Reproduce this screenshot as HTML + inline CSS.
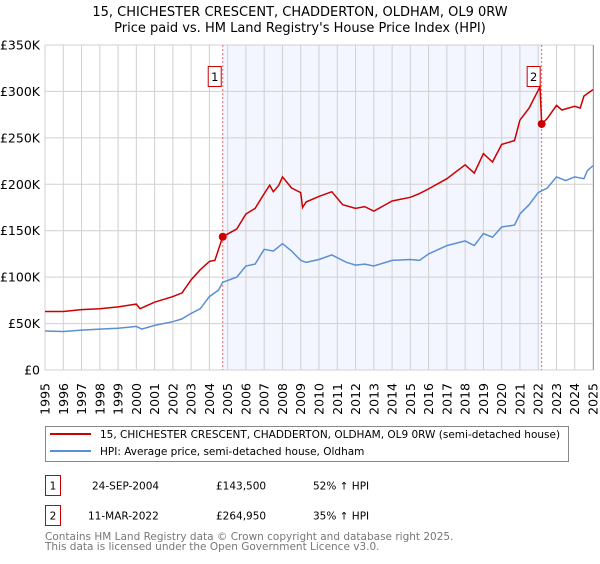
<!DOCTYPE html>
<html><head><meta charset="utf-8"><style>
body{margin:0;background:#fff;font-family:"DejaVu Sans","Liberation Sans",sans-serif;}
svg text{font-family:"DejaVu Sans","Liberation Sans",sans-serif;}
</style></head><body>
<svg id="chart" width="600" height="560" xmlns="http://www.w3.org/2000/svg">
<text x="300" y="16" font-size="13" text-anchor="middle">15, CHICHESTER CRESCENT, CHADDERTON, OLDHAM, OL9 0RW</text>
<text x="300" y="32" font-size="13" text-anchor="middle">Price paid vs. HM Land Registry's House Price Index (HPI)</text>
<g id="plot"></g>
<rect x="45.5" y="426.5" width="523" height="35" fill="#fff" stroke="#888"/>
<line x1="50" y1="434" x2="91" y2="434" stroke="#cc0000" stroke-width="2"/>
<text x="100" y="438" font-size="10.5">15, CHICHESTER CRESCENT, CHADDERTON, OLDHAM, OL9 0RW (semi-detached house)</text>
<line x1="50" y1="451" x2="91" y2="451" stroke="#5b8fd4" stroke-width="2"/>
<text x="100" y="455" font-size="10.5">HPI: Average price, semi-detached house, Oldham</text>
<rect x="45.5" y="475.5" width="15" height="20" fill="#fff" stroke="#cc0000"/>
<text x="53" y="489.5" font-size="10.5" text-anchor="middle">1</text>
<text x="92" y="489.5" font-size="10.5">24-SEP-2004</text>
<text x="216" y="489.5" font-size="10.5">£143,500</text>
<text x="313" y="489.5" font-size="10.5">52% ↑ HPI</text>
<rect x="45.5" y="505.5" width="15" height="20" fill="#fff" stroke="#cc0000"/>
<text x="53" y="519.5" font-size="10.5" text-anchor="middle">2</text>
<text x="88" y="519.5" font-size="10.5">11-MAR-2022</text>
<text x="216" y="519.5" font-size="10.5">£264,950</text>
<text x="313" y="519.5" font-size="10.5">35% ↑ HPI</text>
<text x="45" y="540" font-size="10.5" fill="#777">Contains HM Land Registry data © Crown copyright and database right 2025.</text>
<text x="45" y="550" font-size="10.5" fill="#777">This data is licensed under the Open Government Licence v3.0.</text>
</svg>
<script>
const years=[1995,1996,1997,1998,1999,2000,2001,2002,2003,2004,2005,2006,2007,2008,2009,2010,2011,2012,2013,2014,2015,2016,2017,2018,2019,2020,2021,2022,2023,2024,2025];
const yTicks=[0,50,100,150,200,250,300,350];
const yTickLabels=["£0","£50K","£100K","£150K","£200K","£250K","£300K","£350K"];
const hpiT=[1995,1996,1997,1998,1999,2000,2000.3,2001,2002,2002.5,2003,2003.5,2004,2004.5,2004.73,2005.5,2006,2006.5,2007,2007.5,2008,2008.5,2009,2009.3,2010,2010.7,2011.5,2012,2012.5,2013,2014,2015,2015.5,2016,2017,2018,2018.5,2019,2019.5,2020,2020.7,2021,2021.5,2022,2022.5,2023,2023.5,2024,2024.5,2024.7,2025];
const hpiV=[42,41.5,43,44,45,47,44,48,52,55,61,66,79,86,94.4,100,112,114,130,128,136,128,118,116,119,124,116,113,114,112,118,119,118,125,134,139,134,147,143,154,156,168,178,191,196,208,204,208,206,215,220];
const redT=[1995,1996,1997,1998,1999,2000,2000.2,2001,2002,2002.5,2003,2003.5,2004,2004.3,2004.73,2005.5,2006,2006.5,2007,2007.3,2007.5,2007.8,2008,2008.5,2009,2009.1,2009.3,2010,2010.7,2011.3,2012,2012.5,2013,2014,2015,2015.5,2016,2017,2018,2018.5,2019,2019.5,2020,2020.7,2021,2021.5,2022.1,2022.19,2022.5,2023,2023.3,2024,2024.3,2024.5,2025];
const redV=[63,63,65,66,68,71,66,73,79,83,97,108,117,118,143.5,152,168,174,190,199,192,199,208,196,191,175,181,187,192,178,174,176,171,182,186,190,195,206,221,212,233,224,243,247,269,282,305,264.95,271,285,280,284,282,295,302];
const saleT=[2004.73,2022.19];
const saleV=[143.5,264.95];
const X0=45,X1=593,Y0=370,Y1=45;
const xs=t=>X0+(t-1995)/30*(X1-X0);
const ys=v=>Y0-v/350*(Y0-Y1);
const NS="http://www.w3.org/2000/svg";
const g=document.getElementById('plot');
function mk(tag,at){const e=document.createElementNS(NS,tag);for(const k in at)e.setAttribute(k,at[k]);g.appendChild(e);return e;}
let e=mk('rect',{x:xs(saleT[0]),y:Y1,width:xs(saleT[1])-xs(saleT[0]),height:Y0-Y1,fill:'#f3f6fe'});


years.forEach(yr=>{
 const l=mk('line',{x1:xs(yr),x2:xs(yr),y1:Y1,y2:Y0,stroke:'#d0d0d0','stroke-width':1});
 
 
 const x=xs(yr)+4.5;
 const t=mk('text',{x:0,y:0,'font-size':12.5,'text-anchor':'end',transform:`translate(${x},${Y0+13}) rotate(-90)`});
 t.textContent=yr;
 
 
});
yTicks.forEach((v,i)=>{
 const l=mk('line',{x1:X0,x2:X1,y1:ys(v),y2:ys(v),stroke:'#d0d0d0','stroke-width':1});
 
 
 const t=mk('text',{x:40,y:ys(v)+4.5,'font-size':12.5,'text-anchor':'end'});
 t.textContent=yTickLabels[i];
 
 
});
saleT.forEach((s,i)=>{
 const l=mk('line',{x1:xs(s),x2:xs(s),y1:Y1,y2:Y0,stroke:'#ee6666','stroke-width':1,'stroke-dasharray':'2,2'});
 
 
});
function path(T,V,col,name){
 const d=T.map((t,i)=>(i?'L':'M')+xs(t).toFixed(1)+','+ys(V[i]).toFixed(1)).join('');
 const p=mk('path',{d:d,fill:'none',stroke:col,'stroke-width':1.5});
 
 
}
path(hpiT,hpiV,'#5b8fd4','hpi-line');
path(redT,redV,'#cc0000','price-line');
saleT.forEach((s,i)=>{
 const c=mk('circle',{cx:xs(s),cy:ys(saleV[i]),r:4,fill:'#cc0000'});
 
 
 const bx=xs(s)-15;
 const r=mk('rect',{x:bx+0.5,y:66.5,width:13,height:20,fill:'#fff',stroke:'#cc0000'});
 
 
 const t=mk('text',{x:bx+7,y:81,'font-size':11.5,'text-anchor':'middle'});
 t.textContent=String(i+1);
 
 
});
const f=mk('line',{x1:X1+0.5,x2:X1+0.5,y1:Y1,y2:Y0,stroke:'#999','stroke-width':1});


</script>
</body></html>
